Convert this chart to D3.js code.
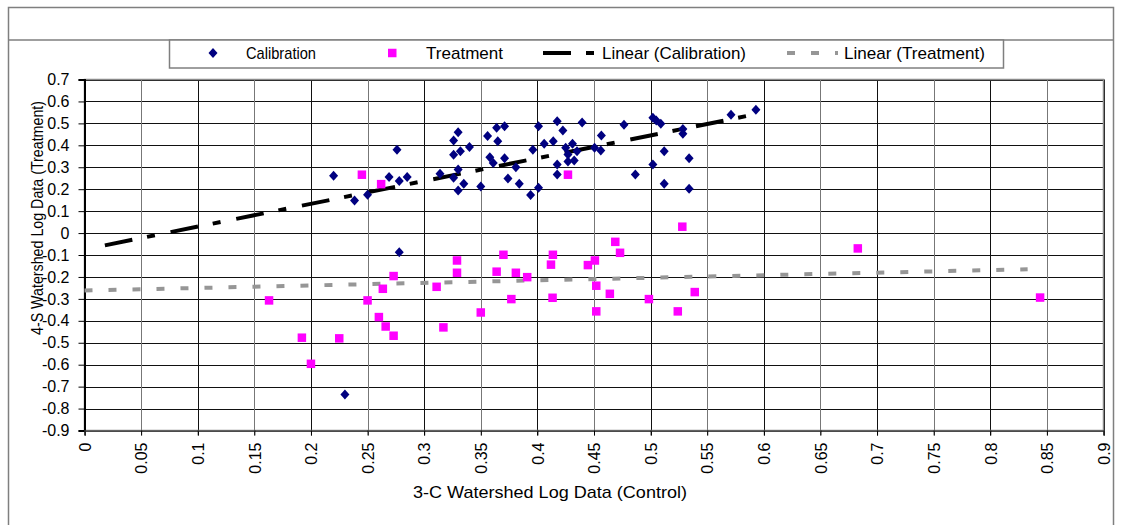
<!DOCTYPE html>
<html>
<head>
  <title>Watershed Log Data</title>
  <script src="https://d3js.org/d3.v7.min.js"></script>
  <style>
    body, html {
      margin: 0;
      padding: 0;
      background: #fff;
      overflow: hidden;
    }
    text {
      font-family: "Liberation Sans", Arial, sans-serif;
      fill: #000;
    }
  </style>
</head>
<body>
  <div id="chart"></div>

  <script>
    // Calibration points (control, treatment)
    const calX = [0.220, 0.276, 0.2385, 0.250, 0.269, 0.278, 0.285, 0.314, 0.330, 0.326,
      0.326, 0.332, 0.340, 0.330, 0.326, 0.335, 0.330, 0.350, 0.356, 0.364,
      0.371, 0.365, 0.358, 0.361, 0.371, 0.381, 0.374, 0.384, 0.394, 0.401,
      0.396, 0.401, 0.406, 0.414, 0.4175, 0.4225, 0.4175, 0.4175, 0.425, 0.431,
      0.427, 0.435, 0.427, 0.4325, 0.4395, 0.4505, 0.456, 0.4565, 0.4765, 0.4865,
      0.502, 0.505, 0.509, 0.502, 0.512, 0.512, 0.5285, 0.5285, 0.534, 0.534,
      0.571, 0.593, 0.278, 0.230];
    const calY = [0.261, 0.380, 0.149, 0.175, 0.255, 0.237, 0.255, 0.270, 0.460, 0.422,
      0.357, 0.373, 0.392, 0.290, 0.252, 0.225, 0.194, 0.212, 0.443, 0.480,
      0.487, 0.418, 0.346, 0.319, 0.341, 0.300, 0.249, 0.225, 0.173, 0.206,
      0.380, 0.487, 0.407, 0.418, 0.510, 0.468, 0.313, 0.267, 0.389, 0.407,
      0.358, 0.373, 0.326, 0.331, 0.504, 0.389, 0.376, 0.445, 0.494, 0.267,
      0.526, 0.513, 0.498, 0.313, 0.373, 0.225, 0.474, 0.453, 0.341, 0.202,
      0.539, 0.562, -0.087, -0.736];

    // Treatment points (control, treatment)
    const trtX = [0.245, 0.262, 0.427, 0.528, 0.163, 0.250, 0.260, 0.192, 0.225, 0.200,
      0.2635, 0.273, 0.266, 0.273, 0.311, 0.317, 0.329, 0.329, 0.350, 0.364,
      0.370, 0.381, 0.391, 0.377, 0.412, 0.4137, 0.4134, 0.4446, 0.4508, 0.452,
      0.452, 0.464, 0.4688, 0.473, 0.4985, 0.524, 0.539, 0.683, 0.844];
    const trtY = [0.266, 0.223, 0.266, 0.029, -0.307, -0.307, -0.383, -0.477, -0.480, -0.596,
      -0.254, -0.196, -0.426, -0.468, -0.245, -0.430, -0.125, -0.181, -0.362, -0.176,
      -0.099, -0.181, -0.201, -0.301, -0.144, -0.099, -0.295, -0.146, -0.125, -0.240,
      -0.357, -0.277, -0.040, -0.090, -0.301, -0.357, -0.269, -0.070, -0.294];

    // Trend line end points
    const calTrendX = [0.018, 0.593];
    const calTrendY = [-0.056, 0.542];
    const trtTrendX = [0, 0.833];
    const trtTrendY = [-0.262, -0.165];

    const xTicks = d3.range(0, 0.9001, 0.05);
    const yTicks = d3.range(-0.9, 0.7001, 0.1);
    const seriesNames = ["Calibration", "Treatment", "Linear (Calibration)", "Linear (Treatment)"];

    const width = 1122, height = 525;
    const svg = d3.select("#chart").append("svg")
      .attr("width", width)
      .attr("height", height);

    const x = d3.scaleLinear().domain([0, 0.9]).range([84.5, 1103.5]);
    const y = d3.scaleLinear().domain([-0.9, 0.7]).range([430.5, 79.5]);

    // outer frame + empty title strip
    svg.append("rect")
      .attr("x", 8.5).attr("y", 7.5)
      .attr("width", 1105).attr("height", 530)
      .attr("fill", "none").attr("stroke", "#7f7f7f").attr("stroke-width", 1.5);
    svg.append("line")
      .attr("x1", 8.5).attr("x2", 1113.5).attr("y1", 40).attr("y2", 40)
      .attr("stroke", "#7f7f7f").attr("stroke-width", 1.5);

    // gridlines
    const grid = svg.append("g");
    grid.selectAll("line.h")
      .data(yTicks)
      .join("line")
      .attr("x1", x(0)).attr("x2", x(0.9))
      .attr("y1", d => Math.round(y(d)) + 0.5)
      .attr("y2", d => Math.round(y(d)) + 0.5)
      .attr("stroke", "#111").attr("stroke-width", 1);
    grid.selectAll("line.v")
      .data(xTicks)
      .join("line")
      .attr("y1", y(0.7)).attr("y2", y(-0.9) + 5)
      .attr("x1", d => Math.round(x(d)) + 0.5)
      .attr("x2", d => Math.round(x(d)) + 0.5)
      .attr("stroke", d => Math.round(d * 20) % 2 ? "#777" : "#111")
      .attr("stroke-width", 1);

    // plot border (grey)
    svg.append("rect")
      .attr("x", x(0)).attr("y", y(0.7))
      .attr("width", x(0.9) - x(0)).attr("height", y(-0.9) - y(0.7))
      .attr("fill", "none").attr("stroke", "#8a8a8a").attr("stroke-width", 1.5);

    // y axis
    const yAxis = svg.append("g")
      .attr("transform", `translate(${x(0)},0)`)
      .call(d3.axisLeft(y).tickValues(yTicks).tickSize(6).tickPadding(9)
        .tickFormat(d => Math.abs(d) < 1e-9 ? "0" : d3.format(".1f")(d).replace("−", "-")));
    yAxis.select(".domain").attr("stroke", "#000").attr("stroke-width", 2);
    yAxis.selectAll(".tick line").attr("stroke", "#000");
    yAxis.selectAll(".tick text")
      .style("font-size", "16px")
      .style("font-family", '"Liberation Sans", Arial, sans-serif');

    // x axis labels (rotated)
    const xAxis = svg.append("g")
      .attr("transform", `translate(0,${y(-0.9)})`)
      .call(d3.axisBottom(x).tickValues(xTicks).tickSize(5)
        .tickFormat(d => Math.abs(d) < 1e-9 ? "0" : d3.format(".2~f")(d)));
    xAxis.select(".domain").attr("stroke", "#555").attr("stroke-width", 1.5);
    xAxis.selectAll(".tick line").attr("stroke", "#000");
    xAxis.selectAll(".tick text")
      .attr("transform", "rotate(-90)")
      .attr("x", -12).attr("y", 0).attr("dy", "0.36em")
      .attr("text-anchor", "end")
      .style("font-size", "16px")
      .style("font-family", '"Liberation Sans", Arial, sans-serif');

    // axis titles
    svg.append("text")
      .attr("x", 550).attr("y", 498)
      .attr("text-anchor", "middle")
      .attr("textLength", 274).attr("lengthAdjust", "spacingAndGlyphs")
      .style("font-size", "17px")
      .text("3-C Watershed Log Data (Control)");
    svg.append("text")
      .attr("transform", "translate(43,218) rotate(-90)")
      .attr("text-anchor", "middle")
      .attr("textLength", 234).attr("lengthAdjust", "spacingAndGlyphs")
      .style("font-size", "17px")
      .text("4-S Watershed Log Data (Treatment)");

    // trend lines
    const line = d3.line().x(d => x(d[0])).y(d => y(d[1]));
    svg.append("path")
      .datum(d3.zip(trtTrendX, trtTrendY))
      .attr("d", line)
      .attr("fill", "none").attr("stroke", "#969696").attr("stroke-width", 4)
      .attr("stroke-dasharray", "8,16");
    svg.append("path")
      .datum(d3.zip(calTrendX, calTrendY))
      .attr("d", line)
      .attr("fill", "none").attr("stroke", "#000").attr("stroke-width", 4)
      .attr("stroke-dasharray", "28,15,8,16");

    // points
    const diamond = "M0,-5L4.5,0L0,5L-4.5,0Z";
    svg.append("g")
      .selectAll("path")
      .data(d3.zip(calX, calY))
      .join("path")
      .attr("d", diamond)
      .attr("fill", "#000080")
      .attr("transform", d => `translate(${x(d[0])},${y(d[1])})`);
    svg.append("g")
      .selectAll("rect")
      .data(d3.zip(trtX, trtY))
      .join("rect")
      .attr("x", d => x(d[0]) - 4.25)
      .attr("y", d => y(d[1]) - 4.25)
      .attr("width", 8.5).attr("height", 8.5)
      .attr("fill", "#ff00ff");

    // legend
    const legend = svg.append("g");
    legend.append("rect")
      .attr("x", 169.5).attr("y", 40)
      .attr("width", 834).attr("height", 28)
      .attr("fill", "#fff").attr("stroke", "#7f7f7f").attr("stroke-width", 1.5);
    const ly = 53;
    legend.append("path").attr("d", diamond).attr("fill", "#000080")
      .attr("transform", `translate(213,${ly})`);
    legend.append("rect").attr("x", 388).attr("y", ly - 4.25)
      .attr("width", 8.5).attr("height", 8.5).attr("fill", "#ff00ff");
    legend.append("line").attr("x1", 543).attr("x2", 596).attr("y1", ly).attr("y2", ly)
      .attr("stroke", "#000").attr("stroke-width", 4).attr("stroke-dasharray", "28,15,8,16");
    legend.append("line").attr("x1", 787).attr("x2", 838).attr("y1", ly).attr("y2", ly)
      .attr("stroke", "#969696").attr("stroke-width", 4).attr("stroke-dasharray", "8,16");
    const legendText = [[246, 70], [426, 77], [602, 144], [844, 141]];
    legend.selectAll("text")
      .data(seriesNames)
      .join("text")
      .attr("x", (d, i) => legendText[i][0])
      .attr("y", ly + 6)
      .attr("textLength", (d, i) => legendText[i][1])
      .attr("lengthAdjust", "spacingAndGlyphs")
      .style("font-size", "17px")
      .text(d => d);
  </script>
</body>
</html>
